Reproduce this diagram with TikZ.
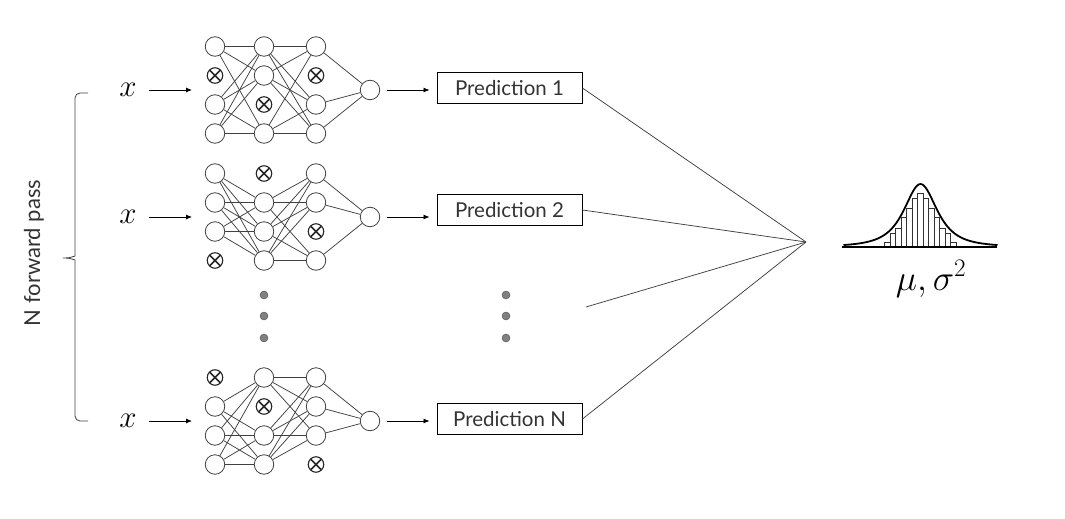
\documentclass[tikz,border=0pt]{standalone}
\usepackage{fix-cm}
\usepackage{fontspec}
\setmainfont{Lato}
\usetikzlibrary{arrows.meta}

\tikzstyle{neuron} = [draw=\nline, circle, minimum size=19.5pt, inner sep=0pt, line width=.8pt]
\tikzstyle{dropped} = [draw=black!85, circle, minimum size=15.5pt, inner sep=0pt, line width=1.1pt,
  path picture={\draw[black!85, line width=1.6pt] (path picture bounding box.north west) -- (path picture bounding box.south east)
    (path picture bounding box.north east) -- (path picture bounding box.south west);}]
\tikzstyle{inout} = [inner sep=0pt]
\tikzstyle{pred} = [draw, rectangle, line width=.9pt, minimum width=145pt, minimum height=31pt, inner sep=0pt, text=black!80, font=\fontsize{20.5}{22}\selectfont]
\tikzstyle{dot} = [draw=black!70, fill=black!50, circle, minimum size=8pt, inner sep=0pt]
\tikzstyle{conn} = [draw=\nline, line width=.75pt]

\begin{document}
\begin{tikzpicture}[x=1pt, y=1pt, >={Latex[length=6pt,width=5pt]}, node distance=1cm]
  \def\nline{black!75}
  \def\rowsep{29}
  \useasboundingbox (0,0) rectangle (1065,-519);

  \node [coordinate] (mix) at (806,-242) {};
  \node [coordinate] (more) at (586,-307) {};

  % one network per forward pass: centre, dropped row per layer, box shift, label
  \foreach \net/\cy/\dropa/\dropb/\dropc/\sh/\lab in {1/90/1/2/1/2/1, 2/217/3/0/2/7/2, 3/421/0/1/3/2/N} {
    \node [neuron] (o\net) at (370,-\cy) {};
    \foreach \col/\cx/\drop in {1/215/\dropa, 2/264/\dropb, 3/316/\dropc}
      \foreach \row in {0,...,3} {
        \ifnum\row=\drop\relax
          \node [dropped] (n\net\col\row) at (\cx,{-\cy-(\row-1.5)*\rowsep}) {};
        \else
          \node [neuron] (n\net\col\row) at (\cx,{-\cy-(\row-1.5)*\rowsep}) {};
        \fi
      }
    \foreach \col/\nxt/\dfrom/\dto in {1/2/\dropa/\dropb, 2/3/\dropb/\dropc}
      \foreach \row in {0,...,3}
        \foreach \nrow in {0,...,3} {
          \ifnum\row=\dfrom\relax\else\ifnum\nrow=\dto\relax\else
            \draw [conn] (n\net\col\row) -- (n\net\nxt\nrow);
          \fi\fi
        }
    \foreach \row in {0,...,3} {
      \ifnum\row=\dropc\relax\else
        \draw [conn] (n\net3\row) -- (o\net);
      \fi
    }

    \node [coordinate] (in\net) at (192,-\cy) {};
    \node [inout, left of=in\net, node distance=64pt] (x\net) {\fontsize{31}{33}\selectfont$x$};
    \draw [->, line width=.8pt, shorten <=12pt] (x\net) -- (in\net);

    \node [pred, right of=o\net, node distance=139.5pt, yshift=\sh pt] (p\net) {Prediction \lab};
    \draw [->, line width=.8pt, shorten <=7pt, shorten >=7pt] (o\net.east) -- (o\net -| p\net.west);
    \draw [conn] (p\net.east) -- (mix);
  }
  \draw [conn] (more) -- (mix);

  \foreach \y in {295,316,338} {
    \node [dot] (ld\y) at (264,-\y) {};
    \node [dot] (rd\y) at (506,-\y) {};
  }

  % brace and its label
  \node [coordinate] (btop) at (88,-93) {};
  \node [coordinate] (bbot) at (88,-421) {};
  \node [coordinate] (btip) at (60,-258) {};
  \draw [black!75, line width=.8pt, rounded corners=5pt] (btop) -| (75,-251)
    .. controls (75,-256) and (70,-258) .. (btip)
    .. controls (70,-258) and (75,-260) .. (75,-265) |- (bbot);
  \node [inout, rotate=90, text=black!80, font=\fontsize{22}{24}\selectfont] (npass) at (34,-253) {N forward pass};

  % distribution
  \foreach \i/\h in {0/5,1/14,2/19,3/30,4/39,5/49,6/54,7/49,8/39,9/30,10/19,11/14,12/5}
    \draw [black!80, line width=.8pt] ({884.7+\i*5.5},-247) rectangle ++(5.5,\h);
  \draw [line width=1.8pt] plot [domain=-77:77, samples=91, smooth]
    ({920.5+\x},{-247+63/((1+(\x/25.5)^2)*sqrt(1+(\x/25.5)^2))});
  \draw [line width=2pt] (842,-247) -- (997,-247);
  \node [inout, anchor=base] (musig) at (931,-290) {\fontsize{36}{38}\selectfont$\mu{,}\mkern3mu\sigma^2$};
\end{tikzpicture}
\end{document}
